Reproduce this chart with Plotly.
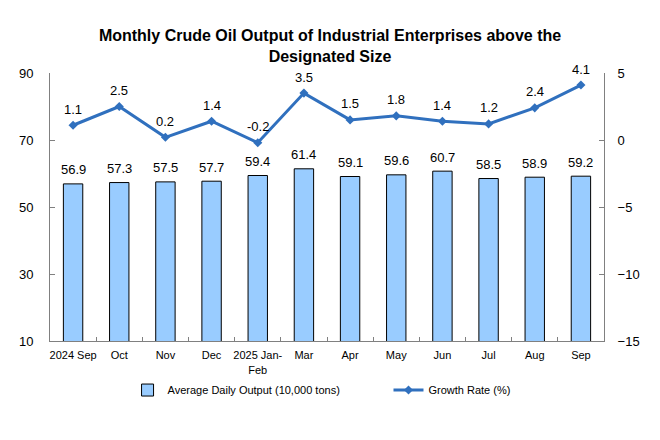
import plotly.graph_objects as go

categories = ["2024 Sep", "Oct", "Nov", "Dec", "2025 Jan-<br>Feb", "Mar", "Apr", "May", "Jun", "Jul", "Aug", "Sep"]
output = [56.9, 57.3, 57.5, 57.7, 59.4, 61.4, 59.1, 59.6, 60.7, 58.5, 58.9, 59.2]
growth = [1.1, 2.5, 0.2, 1.4, -0.2, 3.5, 1.5, 1.8, 1.4, 1.2, 2.4, 4.1]
left_ticks = [10, 30, 50, 70, 90]
right_ticks = [-15, -10, -5, 0, 5]

FONT = "Liberation Sans, Arial, sans-serif"
LINE = "#3070BE"
BAR = "#99CCFF"

fig = go.Figure()
fig.add_trace(go.Bar(
    x=categories, y=output, name="Average Daily Output (10,000 tons)",
    marker=dict(color=BAR, line=dict(color="black", width=1)),
    width=0.42,
    legend="legend",
))
fig.add_trace(go.Scatter(
    x=categories, y=growth, name="Growth Rate (%)", yaxis="y2",
    mode="lines+markers",
    line=dict(color=LINE, width=3),
    marker=dict(symbol="diamond", size=7, color=LINE),
    cliponaxis=False,
    legend="legend2",
))

for c, v in zip(categories, output):
    fig.add_annotation(x=c, y=v, xref="x", yref="y", text=f"{v:.1f}",
                       showarrow=False, yanchor="middle", yshift=14,
                       font=dict(size=13, color="black", family=FONT))
for c, v in zip(categories, growth):
    fig.add_annotation(x=c, y=v, xref="x", yref="y2", text=f"{v:.1f}",
                       showarrow=False, yanchor="middle", yshift=16,
                       font=dict(size=13, color="black", family=FONT))

fig.update_layout(
    width=660, height=440,
    margin=dict(l=42, r=64, t=65, b=107, autoexpand=False),
    paper_bgcolor="white", plot_bgcolor="white",
    font=dict(family=FONT, color="black"),
    title=dict(
        text="<b>Monthly Crude Oil Output of Industrial Enterprises above the<br>Designated Size</b>",
        x=0.4879, xanchor="center", y=0.925, yanchor="top",
        font=dict(size=16, color="black", family=FONT),
    ),
    showlegend=True,
    legend=dict(
        x=0.140, xanchor="left", y=-0.183, yanchor="middle",
        font=dict(size=11, color="black", family=FONT),
        bgcolor="rgba(0,0,0,0)",
    ),
    legend2=dict(
        x=0.611, xanchor="left", y=-0.183, yanchor="middle",
        font=dict(size=11, color="black", family=FONT),
        bgcolor="rgba(0,0,0,0)",
    ),
    xaxis=dict(
        range=[-0.5, len(categories) - 0.5], autorange=False,
        showline=True, linecolor="#808080", linewidth=1,
        ticks="inside", ticklen=4, tickcolor="#808080", tickson="boundaries",
        tickfont=dict(size=11, color="black", family=FONT),
        tickangle=0, ticklabelstandoff=4,
        showgrid=False, zeroline=False,
    ),
    yaxis=dict(
        range=[10, 90], tickvals=left_ticks,
        showline=True, linecolor="#808080", linewidth=1,
        ticks="inside", ticklen=5, tickcolor="#808080",
        tickfont=dict(size=13, color="black", family=FONT),
        ticklabelstandoff=13,
        showgrid=False, zeroline=False,
    ),
    yaxis2=dict(
        range=[-15, 5], tickvals=right_ticks, overlaying="y", side="right",
        showline=True, linecolor="#808080", linewidth=1,
        ticks="inside", ticklen=5, tickcolor="#808080",
        tickfont=dict(size=13, color="black", family=FONT),
        ticklabelstandoff=10,
        showgrid=False, zeroline=False,
    ),
)

fig.write_html("out.html")
